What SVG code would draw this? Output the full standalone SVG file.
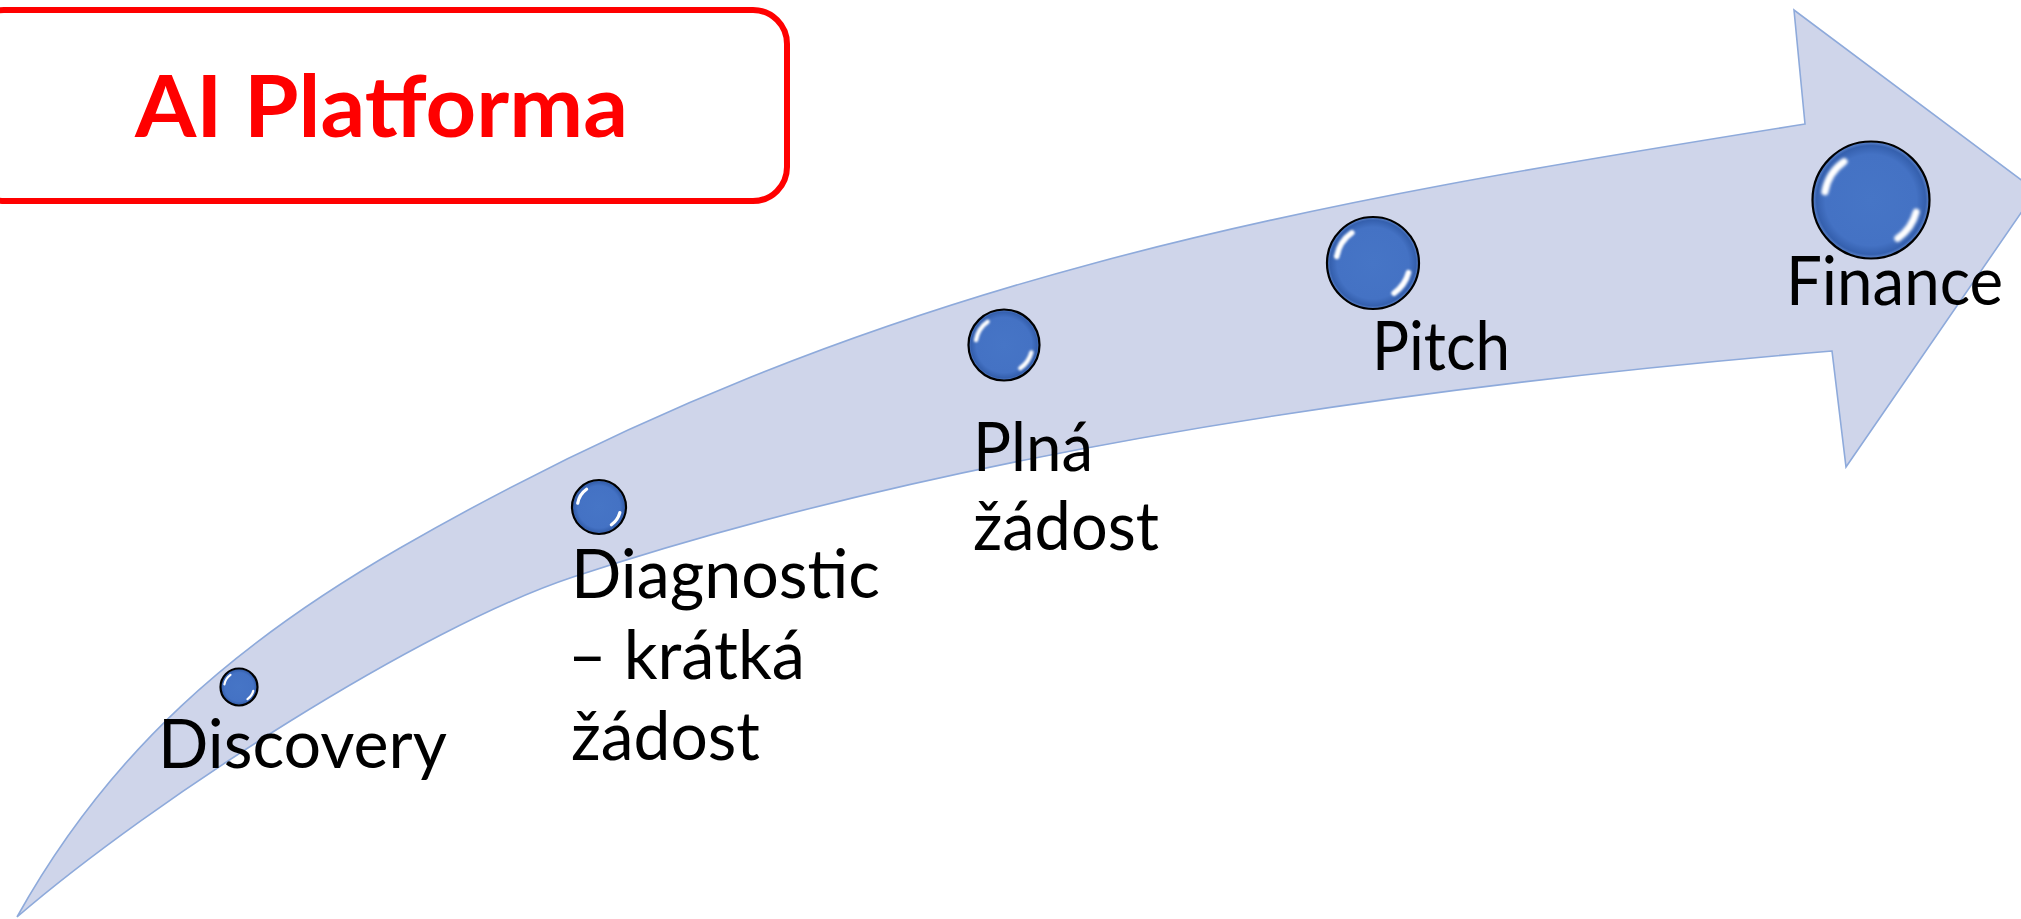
<svg xmlns="http://www.w3.org/2000/svg" width="2021" height="919" viewBox="0 0 2021 919">
  <style>
    .lbl { font-family: Lato, "Noto Sans", "DejaVu Sans", sans-serif; font-size: 67px; fill: #000000; }
    .title { font-family: Lato, "Liberation Sans", sans-serif; font-weight: bold; font-size: 86px; fill: #FF0000; }
    .arrow { fill: #CFD5EA; stroke: #8EAADB; stroke-width: 1.6; stroke-linejoin: miter; }
    .box { fill: #FFFFFF; stroke: #FF0000; stroke-width: 6; }
  </style>
  <defs>
    <radialGradient id="bubbleGrad" cx="0.5" cy="0.5" r="0.5">
      <stop offset="0" stop-color="#4675C6"/>
      <stop offset="0.78" stop-color="#4472C4"/>
      <stop offset="0.93" stop-color="#3560AE"/>
      <stop offset="1" stop-color="#5F86CC"/>
    </radialGradient>
    <filter id="soft" x="-20%" y="-20%" width="140%" height="140%">
      <feGaussianBlur stdDeviation="1.3"/>
    </filter>
    <g id="bubble">
      <circle r="50" fill="url(#bubbleGrad)" stroke="#000000" stroke-width="2.2" vector-effect="non-scaling-stroke"/>
      <g filter="url(#soft)" fill="none" stroke="#FFFFFF" stroke-linecap="round">
        <path d="M -39.4,-7 A 40 40 0 0 1 -23,-32.8" stroke-width="6"/>
        <path d="M 38.6,10.4 A 40 40 0 0 1 22.9,32.8" stroke-width="6"/>
      </g>
    </g>
  </defs>

  <g id="title-box">
    <rect class="box" x="-30" y="10" width="817" height="191" rx="34" ry="34"/>
    <text class="title" x="135" y="137" textLength="493" lengthAdjust="spacingAndGlyphs">AI Platforma</text>
  </g>

  <g id="connectors">
    <path id="arrow" class="arrow" d="M 17,917
      C 109.3,751 235.5,642.8 400,548
      C 876.3,273.5 1311.5,203 1805,124
      L 1794,10 L 2036,191 L 1846,467 L 1832,351
      C 1334,392.5 905.5,467 573,577
      C 421,627.2 153.4,799.6 17,917 Z"/>
  </g>

  <g id="node-discovery">
    <use href="#bubble" transform="translate(239,687) scale(0.37)"/>
    <text class="lbl" x="158" y="768" textLength="289" lengthAdjust="spacingAndGlyphs">Discovery</text>
  </g>

  <g id="node-diagnostic">
    <use href="#bubble" transform="translate(599,507) scale(0.54)"/>
    <text class="lbl" x="571" y="598" textLength="309" lengthAdjust="spacingAndGlyphs">Diagnostic</text>
    <text class="lbl" x="568" y="679" textLength="237" lengthAdjust="spacingAndGlyphs">– krátká</text>
    <text class="lbl" x="571" y="760" textLength="189" lengthAdjust="spacingAndGlyphs">žádost</text>
  </g>

  <g id="node-plna">
    <use href="#bubble" transform="translate(1004,345) scale(0.71)"/>
    <text class="lbl" x="973" y="471" textLength="120" lengthAdjust="spacingAndGlyphs">Plná</text>
    <text class="lbl" x="973" y="550" textLength="186" lengthAdjust="spacingAndGlyphs">žádost</text>
  </g>

  <g id="node-pitch">
    <use href="#bubble" transform="translate(1373,263) scale(0.92)"/>
    <text class="lbl" x="1372" y="370" textLength="138" lengthAdjust="spacingAndGlyphs">Pitch</text>
  </g>

  <g id="node-finance">
    <use href="#bubble" transform="translate(1871,200) scale(1.17)"/>
    <text class="lbl" x="1786" y="305" textLength="217" lengthAdjust="spacingAndGlyphs">Finance</text>
  </g>
</svg>
